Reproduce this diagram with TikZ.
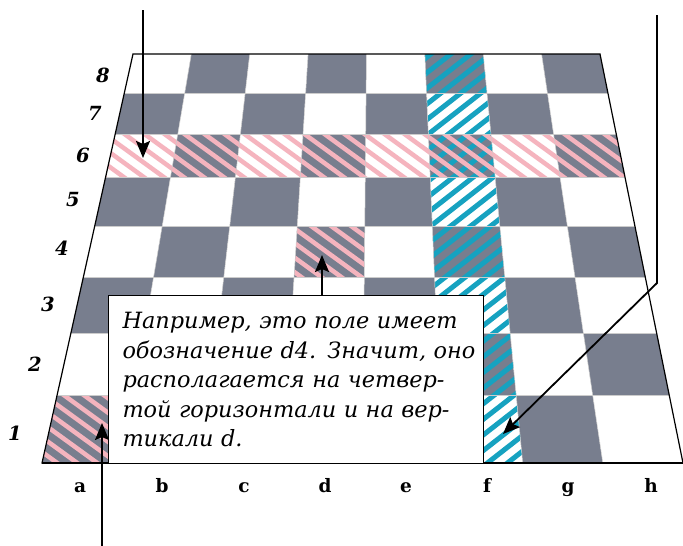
\documentclass[tikz,border=0pt]{standalone}
\usepackage{fontspec}
\newfontfamily\rufont{DejaVu Serif}
\usetikzlibrary{calc,arrows.meta}
\definecolor{sqdark}{RGB}{120,126,142}
\definecolor{hpink}{RGB}{245,180,190}
\definecolor{hcyan}{RGB}{22,162,192}
\begin{document}
\begin{tikzpicture}[x=1pt,y=-1pt,
  arr/.style={line width=1.8pt, -{Stealth[length=17pt,width=14pt,inset=3pt]}},
  ranklab/.style={font=\rufont\fontsize{19.5}{19.5}\selectfont\bfseries\itshape, inner sep=0pt},
  filelab/.style={font=\rufont\fontsize{18.5}{18.5}\selectfont\bfseries, inner sep=0pt, anchor=base},
  gridl/.style={white!80!black, line width=0.5pt},
  pinkh/.style={hpink, line width=4.5pt},
  cyanh/.style={hcyan, line width=5pt},
  note/.style={draw=black, line width=1pt, fill=white, anchor=north west,
    minimum width=375pt, minimum height=168pt, text width=347pt,
    inner xsep=14pt, align=left,
    font=\rufont\itshape\fontsize{22.4}{29.5}\selectfont}
]
\useasboundingbox (0,0) rectangle (683,546);
% row boundaries on left and right edges
\foreach \j/\yy in {0/54,1/93,2/134,3/177,4/226,5/277,6/333,7/395,8/463}{
  \coordinate (L\j) at ({133-0.22249*(\yy-54)},\yy);
  \coordinate (R\j) at ({600+0.20293*(\yy-54)},\yy);
}
% squares
\foreach \r in {1,...,8}{
  \pgfmathtruncatemacro\jt{8-\r}
  \pgfmathtruncatemacro\jb{9-\r}
  \foreach \i in {0,...,7}{
    \pgfmathtruncatemacro\ii{\i+1}
    \pgfmathtruncatemacro\pty{mod(\i+\r,2)}
    \ifnum\pty=1 \def\sqcol{sqdark}\else\def\sqcol{white}\fi
    \fill[\sqcol] ($(L\jt)!\i/8!(R\jt)$) -- ($(L\jt)!\ii/8!(R\jt)$)
      -- ($(L\jb)!\ii/8!(R\jb)$) -- ($(L\jb)!\i/8!(R\jb)$) -- cycle;
  }
}
% cyan hatch: file f
\begin{scope}
  \clip ($(L0)!5/8!(R0)$) -- ($(L0)!6/8!(R0)$) -- ($(L8)!6/8!(R8)$) -- ($(L8)!5/8!(R8)$) -- cycle;
  \foreach \c in {300,320,...,1300}
    \draw[cyanh] (\c,0) -- ++({-900*cos(38)},{900*sin(38)});
\end{scope}
% pink hatch: rank 6, d4, a1
\begin{scope}
  \clip (L2) -- (R2) -- (R3) -- (L3) -- cycle
    ($(L4)!3/8!(R4)$) -- ($(L4)!4/8!(R4)$) -- ($(L5)!4/8!(R5)$) -- ($(L5)!3/8!(R5)$) -- cycle
    (L7) -- ($(L7)!1/8!(R7)$) -- ($(L8)!1/8!(R8)$) -- (L8) -- cycle;
  \foreach \c in {-720,-700,...,700}
    \draw[pinkh] (\c,0) -- ++({900*cos(36)},{900*sin(36)});
\end{scope}
% grid
\foreach \j in {1,...,7} \draw[gridl] (L\j) -- (R\j);
\foreach \i in {1,...,7} \draw[gridl] ($(L0)!\i/8!(R0)$) -- ($(L8)!\i/8!(R8)$);
% outline
\draw[line width=1.2pt] (L0) -- (R0) -- (R8) -- (L8) -- cycle;
\draw[line width=1.6pt] (L8) -- (R8);
% rank labels
\node[ranklab] (r8) at (103,75) {8};
\node[ranklab] (r7) at (95,113) {7};
\node[ranklab] (r6) at (83,155) {6};
\node[ranklab] (r5) at (73,200) {5};
\node[ranklab] (r4) at (62,248) {4};
\node[ranklab] (r3) at (48,304) {3};
\node[ranklab] (r2) at (35,364) {2};
\node[ranklab] (r1) at (15,433) {1};
% file labels
\foreach \f/\x in {a/80,b/162,c/244,d/325,e/406,f/487,g/568,h/651}
  \node[filelab] (file\f) at (\x,492) {\f};
% note box
\node[note] (box) at (108,295) {\mbox{Например, это поле имеет}\\
\mbox{обозначение d4. Значит, оно}\\
\mbox{располагается на четвер-}\\
\mbox{той горизонтали и на вер-}\\
\mbox{тикали d.}};
% arrows
\coordinate (t1) at (143,10);
\coordinate (h1) at (143,158);
\draw[arr] (t1) -- (h1);
\coordinate (t2) at (657,15);
\coordinate (k2) at (657,283);
\coordinate (h2) at (503,434);
\draw[arr] (t2) -- (k2) -- (h2);
\coordinate (t3) at (102,546);
\coordinate (h3) at (102,423);
\draw[arr] (t3) -- (h3);
\coordinate (h4) at (322,255);
\draw[arr] (h4 |- box.north) -- (h4);
\end{tikzpicture}
\end{document}
